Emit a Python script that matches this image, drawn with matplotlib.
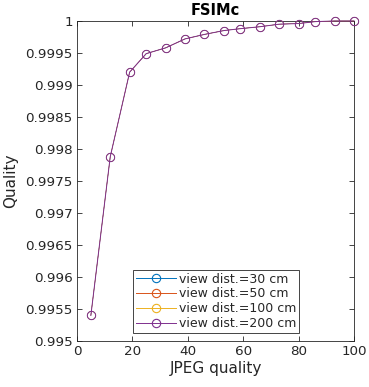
import matplotlib
matplotlib.use("Agg")
import matplotlib.pyplot as plt

jpeg_quality = [5, 12, 19, 25, 32, 39, 46, 53, 59, 66, 73, 80, 86, 93, 100]
fsimc = [0.99540, 0.99788, 0.99920, 0.99949, 0.99958, 0.99972, 0.99979,
         0.99985, 0.99988, 0.99991, 0.99995, 0.99996, 0.99999, 1.0, 1.0]
view_dists = ["view dist.=30 cm", "view dist.=50 cm", "view dist.=100 cm", "view dist.=200 cm"]
# all viewing distances give the same FSIMc values
series = [fsimc, fsimc, fsimc, fsimc]
colors = ["#0072BD", "#D95319", "#EDB120", "#7E2F8E"]

text_col = "#262626"
plt.rcParams["font.family"] = "DejaVu Sans"

fig = plt.figure(figsize=(3.69, 3.87), dpi=100)
ax = fig.add_axes([0.2087, 0.1189, 0.7507, 0.8269])

for i, (vals, lab, c) in enumerate(zip(series, view_dists, colors)):
    top = i == len(series) - 1
    # hidden series drawn thinner so the last one covers them cleanly
    lw = 0.7 if top else 0.25
    ax.plot(jpeg_quality, vals, "-", color=c, lw=lw, clip_on=False, zorder=2 + i)
    ax.plot(jpeg_quality, vals, "o", ms=6, mfc="none", mec=c, mew=lw,
            clip_on=False, zorder=2 + i)
    ax.plot([], [], "-o", color=c, lw=0.7, ms=6, mfc="none", mec=c, mew=0.8, label=lab)

ax.set_xlim(0, 100)
ax.set_ylim(0.995, 1.0)
ax.set_xticks([0, 20, 40, 60, 80, 100])
yt = [0.995 + 0.0005 * i for i in range(11)]
ax.set_yticks(yt)
ax.set_yticklabels(["0.995", "0.9955", "0.996", "0.9965", "0.997", "0.9975",
                    "0.998", "0.9985", "0.999", "0.9995", "1"])
ax.tick_params(direction="in", top=True, right=True, length=3.5, width=0.6,
               labelsize=9.7, colors=text_col, pad=3)
for s in ax.spines.values():
    s.set_color(text_col)
    s.set_linewidth(0.6)

ax.set_xlabel("JPEG quality", fontsize=11, color=text_col, labelpad=2)
ax.set_ylabel("Quality", fontsize=11, color=text_col, labelpad=5)
ax.set_title("FSIMc", fontsize=10.5, fontweight="bold", color="black", pad=4)

leg = ax.legend(loc="lower left", bbox_to_anchor=(0.203, 0.026), borderaxespad=0,
                fontsize=9, handlelength=3.2, handletextpad=0.3, labelspacing=0.15,
                borderpad=0.2, fancybox=False, framealpha=1, edgecolor=text_col)
leg.get_frame().set_linewidth(0.6)
leg.set_zorder(10)
for t in leg.get_texts():
    t.set_color(text_col)

fig.savefig("out.png", dpi=100)
